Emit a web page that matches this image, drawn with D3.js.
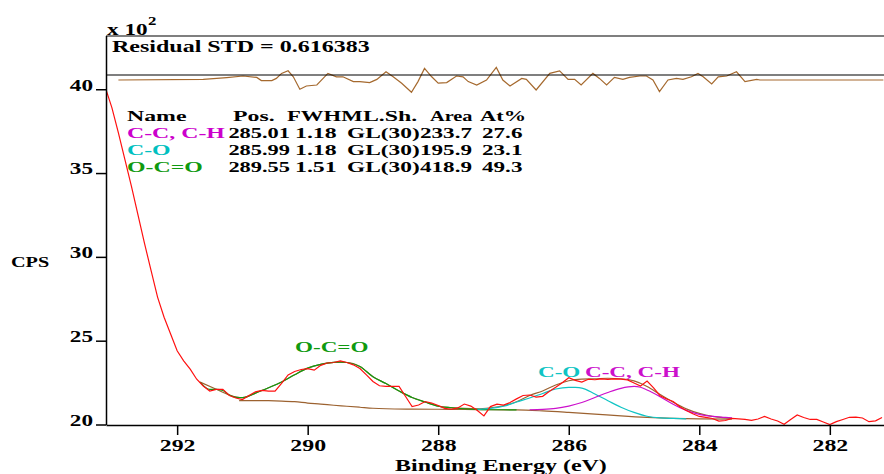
<!DOCTYPE html>
<html>
<head>
<meta charset="utf-8">
<script src="https://cdn.jsdelivr.net/npm/d3@7"></script>
<style>
  body { margin: 0; background: #fff; }
  svg text { font-family: "Liberation Serif", "Times New Roman", serif; font-weight: bold; }
</style>
</head>
<body>
<div id="chart"></div>
<script>
// spectrum (x 10^2 CPS) at 0.1 eV steps
var specE = [293.1, 293.0, 292.9, 292.8, 292.7, 292.6, 292.5, 292.4, 292.3, 292.2, 292.1, 292.0,
	291.9, 291.8, 291.7, 291.6, 291.5, 291.4, 291.3, 291.2, 291.1, 291.0,
	290.9, 290.8, 290.7, 290.6, 290.5, 290.4, 290.3, 290.2, 290.1, 290.0,
	289.9, 289.8, 289.7, 289.6, 289.5, 289.4, 289.3, 289.2, 289.1, 289.0,
	288.9, 288.8, 288.7, 288.6, 288.5, 288.4, 288.3, 288.2, 288.1, 288.0,
	287.9, 287.8, 287.7, 287.6, 287.5, 287.4, 287.3, 287.2, 287.1, 287.0,
	286.9, 286.8, 286.7, 286.6, 286.5, 286.4, 286.3, 286.2, 286.1, 286.0,
	285.9, 285.8, 285.7, 285.6, 285.5, 285.4, 285.3, 285.2, 285.1, 285.0,
	284.9, 284.8, 284.7, 284.6, 284.5, 284.4, 284.3, 284.2, 284.1, 284.0,
	283.9, 283.8, 283.7, 283.6, 283.5, 283.4, 283.3, 283.2, 283.1, 283.0,
	282.9, 282.8, 282.7, 282.6, 282.5, 282.4, 282.3, 282.2, 282.1, 282.0,
	281.9, 281.8, 281.7, 281.6, 281.5, 281.4, 281.3, 281.2];
var specV = [40.1, 38.9, 37.4, 35.8, 34.2, 32.5, 30.8, 29.2, 27.6, 26.4, 25.4, 24.4,
	23.8, 23.3, 22.7, 22.3, 22.0, 22.1, 22.1, 21.73, 21.58, 21.49,
	21.73, 21.95, 22.03, 21.99, 21.99, 22.45, 22.96, 23.16, 23.28, 23.33,
	23.24, 23.53, 23.67, 23.70, 23.79, 23.70, 23.56, 23.34, 22.96, 22.57,
	22.31, 22.27, 22.27, 22.27, 21.67, 21.07, 21.16, 21.37, 21.28, 21.13,
	20.96, 20.91, 20.99, 21.22, 21.10, 20.84, 20.51, 21.07, 21.21, 21.16,
	21.31, 21.53, 21.73, 21.76, 21.63, 21.68, 21.97, 22.22, 22.49, 22.79,
	22.63, 22.53, 22.70, 22.67, 22.72, 22.69, 22.72, 22.71, 22.66, 22.48,
	22.30, 22.59, 22.18, 21.72, 21.52, 21.37, 21.06, 20.84, 20.64, 20.48,
	20.42, 20.36, 20.20, 20.24, 20.36, 20.34, 20.30, 20.25, 20.33, 20.48,
	20.33, 20.21, 20.01, 20.30, 20.57, 20.42, 20.30, 20.30, 20.15, 20.00,
	20.17, 20.30, 20.43, 20.44, 20.39, 20.17, 20.22, 20.42];

// background
var bgE = [291.05, 290.6, 290.4, 290.2, 290.0, 289.8, 289.6, 289.4, 289.2, 289.0, 288.8, 288.4,
	288.0, 287.6, 287.2, 286.8, 286.4, 286.0, 285.6, 285.2, 284.8, 284.4, 284.0, 283.5];
var bgV = [21.43, 21.42, 21.40, 21.36, 21.28, 21.22, 21.15, 21.09, 21.03, 20.97, 20.94, 20.92,
	20.91, 20.90, 20.88, 20.87, 20.81, 20.72, 20.62, 20.51, 20.42, 20.36, 20.33, 20.32];

// envelope
var envE = [291.65, 291.4, 291.2, 291.0, 290.8, 290.6, 290.4, 290.2, 290.0, 289.8, 289.6, 289.4,
	289.2, 289.0, 288.8, 288.6, 288.4, 288.2, 288.0, 287.8, 287.6, 287.4, 287.2, 287.0,
	286.8, 286.6, 286.4, 286.2, 286.0, 285.8, 285.6, 285.4, 285.2, 285.0, 284.8, 284.6,
	284.4, 284.2, 284.0, 283.8, 283.6, 283.5];
var envV = [22.53, 22.10, 21.76, 21.60, 21.87, 22.19, 22.54, 22.97, 23.36, 23.59, 23.71, 23.70,
	23.46, 22.85, 22.44, 22.00, 21.61, 21.34, 21.10, 21.01, 20.96, 20.94, 21.00, 21.12,
	21.36, 21.73, 22.00, 22.36, 22.61, 22.71, 22.73, 22.76, 22.73, 22.60, 22.27, 21.79,
	21.33, 20.93, 20.66, 20.48, 20.39, 20.36];

// components (drawn on top of background)
var ocoE = [291.65, 291.5, 291.4, 291.3, 291.2, 291.1, 291.0, 290.9, 290.8, 290.6, 290.4, 290.2,
	290.0, 289.8, 289.6, 289.5, 289.4, 289.2, 289.0, 288.8, 288.6, 288.4, 288.2, 288.0,
	287.8, 287.6, 287.4, 287.2, 287.0, 286.8];
var ocoV = [22.53, 22.09, 22.10, 22.03, 21.76, 21.62, 21.60, 21.70, 21.87, 22.19, 22.54, 22.97,
	23.36, 23.59, 23.71, 23.73, 23.70, 23.46, 22.85, 22.44, 22.00, 21.61, 21.34, 21.09,
	21.00, 20.94, 20.90, 20.88, 20.88, 20.87];
var coE = [287.4, 287.2, 287.0, 286.8, 286.6, 286.4, 286.2, 286.0, 285.9, 285.8, 285.6, 285.4,
	285.2, 285.0, 284.8, 284.6, 284.4, 284.2];
var coV = [20.90, 20.96, 21.09, 21.34, 21.58, 21.85, 22.12, 22.22, 22.21, 22.17, 21.82, 21.42,
	21.03, 20.72, 20.49, 20.39, 20.36, 20.34];
var ccE = [286.6, 286.4, 286.2, 286.0, 285.8, 285.6, 285.4, 285.2, 285.0, 284.9, 284.8, 284.6,
	284.4, 284.2, 284.0, 283.8, 283.6, 283.5];
var ccV = [20.88, 20.90, 20.96, 21.10, 21.31, 21.61, 21.91, 22.16, 22.27, 22.22, 22.06, 21.66,
	21.21, 20.84, 20.60, 20.48, 20.42, 20.39];

// residual
var resE = [292.90, 291.60, 291.24, 290.99, 290.78, 290.71, 290.55, 290.48, 290.40, 290.30, 290.22, 290.12,
	290.02, 289.86, 289.69, 289.56, 289.46, 289.30, 289.20, 289.05, 288.94, 288.80, 288.69, 288.56,
	288.41, 288.31, 288.21, 288.10, 288.00, 287.87, 287.72, 287.62, 287.54, 287.41, 287.26, 287.11,
	287.01, 286.90, 286.72, 286.65, 286.50, 286.29, 286.14, 286.01, 285.91, 285.81, 285.63, 285.53,
	285.42, 285.30, 285.17, 285.07, 284.91, 284.81, 284.71, 284.61, 284.48, 284.35, 284.25, 284.12,
	284.02, 283.94, 283.81, 283.71, 283.58, 283.43, 283.30, 283.12, 283.07, 281.18];
var resV = [0, 0.03, 0.12, 0.20, 0.13, -0.03, -0.03, 0.08, 0.33, 0.46, 0.16, -0.46,
	-0.30, -0.25, 0.33, 0.16, 0.16, -0.08, -0.08, -0.13, 0.03, 0.41, 0.16, -0.16,
	-0.61, -0.08, 0.58, 0.16, -0.16, -0.13, 0.20, 0.16, -0.08, -0.25, 0, 0.63,
	0, -0.30, 0.08, 0.03, -0.50, 0.33, 0.46, 0.03, 0.03, -0.25, 0.33, 0.08,
	-0.25, 0.13, 0.03, 0.13, 0.20, 0.20, 0, -0.58, 0, 0.08, 0.03, 0.16,
	0.33, 0.16, -0.20, 0.16, 0.20, 0.41, -0.08, 0.03, 0, 0];

// quantification table
var tNames = ['C-C, C-H', 'C-O', 'O-C=O'];
var tPos = ['285.01', '285.99', '289.55'];
var tFwhm = ['1.18', '1.18', '1.51'];
var tShape = ['GL(30)', 'GL(30)', 'GL(30)'];
var tArea = ['233.7', '195.9', '418.9'];
var tAt = ['27.6', '23.1', '49.3'];
var tColors = ['#cc00cc', '#00c0c0', '#109a10'];

var xTicks = [292, 290, 288, 286, 284, 282];
var yTicks = [20, 25, 30, 35, 40];

var w = 884;
var h = 474;
var mLeft = 106, mRight = 884, mBottom = 424.5, mTop = 36;

var svg = d3.select('#chart')
	.append('svg')
	.attr('width', w)
	.attr('height', h)

var x = d3.scaleLinear()
	.domain([293.09, 281.17])
	.range([mLeft, mRight])

var y = d3.scaleLinear()
	.domain([20, 43.2])
	.range([mBottom, 35.6])

var ry = d3.scaleLinear()
	.domain([-1, 1])
	.range([100, 60])

function stretch(sel, k) {
	sel.each(function() {
		var len = this.getComputedTextLength();
		d3.select(this)
			.attr('textLength', len * k)
			.attr('lengthAdjust', 'spacingAndGlyphs')
	})
}

function zip(es, vs) {
	return es.map(function(e, i) { return {e: e, v: vs[i]}; });
}

svg.append('defs')
	.append('clipPath')
	.attr('id', 'plotclip')
	.append('rect')
	.attr('x', mLeft)
	.attr('y', mTop)
	.attr('width', mRight - mLeft)
	.attr('height', mBottom - mTop + 2)

// residual panel
var rline = d3.line()
	.x(function(d) { return x(d.e); })
	.y(function(d) { return ry(d.v); })

svg.append('path')
	.datum(zip(resE, resV))
	.attr('fill', 'none')
	.attr('stroke', '#a5692e')
	.attr('stroke-width', 1.2)
	.attr('d', rline)

svg.append('line')
	.attr('x1', mLeft).attr('x2', mRight)
	.attr('y1', 75).attr('y2', 75)
	.attr('stroke', '#000')
	.attr('stroke-width', 1.2)

svg.append('line')
	.attr('x1', mLeft).attr('x2', mRight)
	.attr('y1', mTop).attr('y2', mTop)
	.attr('stroke', '#000')
	.attr('stroke-width', 1.2)

// curves
var smooth = d3.line()
	.x(function(d) { return x(d.e); })
	.y(function(d) { return y(d.v); })
	.curve(d3.curveMonotoneX)

var plain = d3.line()
	.x(function(d) { return x(d.e); })
	.y(function(d) { return y(d.v); })

var g = svg.append('g').attr('clip-path', 'url(#plotclip)')

var curves = [
	{e: bgE, v: bgV, c: '#9c6230'},
	{e: envE, v: envV, c: '#9c6230'},
	{e: ocoE, v: ocoV, c: '#109a10'},
	{e: coE, v: coV, c: '#10c4c4'},
	{e: ccE, v: ccV, c: '#cc10cc'}
]

curves.forEach(function(k) {
	g.append('path')
		.datum(zip(k.e, k.v))
		.attr('fill', 'none')
		.attr('stroke', k.c)
		.attr('stroke-width', 1.2)
		.attr('d', smooth)
})

g.append('path')
	.datum(zip(specE, specV))
	.attr('fill', 'none')
	.attr('stroke', '#ff1010')
	.attr('stroke-width', 1.2)
	.attr('d', plain)

// axes
var yaxis = svg.append('g')
	.attr('transform', 'translate(' + mLeft + ',0)')

yaxis.call(d3.axisLeft(y).tickValues(d3.range(20, 44, 1)).tickSize(6).tickFormat('').tickSizeOuter(0))
yaxis.call(d3.axisLeft(y).tickValues(yTicks).tickSize(10).tickSizeOuter(0))
yaxis.selectAll('path, line').attr('stroke', '#000').attr('stroke-width', 1.5)
yaxis.selectAll('text')
	.attr('x', -13)
	.attr('dy', '0.05em')
	.attr('fill', '#000')
	.style('font-size', '16px')
	.style('font-family', '"Liberation Serif", serif')
	.style('font-weight', 'bold')
	.call(stretch, 1.45)

var xaxis = svg.append('g')
	.attr('transform', 'translate(0,' + (mBottom + 0.5) + ')')

xaxis.call(d3.axisBottom(x).tickValues(d3.range(293, 281, -0.5)).tickSize(6).tickFormat('').tickSizeOuter(0))
xaxis.call(d3.axisBottom(x).tickValues(xTicks).tickSize(10).tickSizeOuter(0))
xaxis.selectAll('path, line').attr('stroke', '#000').attr('stroke-width', 1.5)
xaxis.selectAll('text')
	.attr('y', 26)
	.attr('dy', 0)
	.attr('fill', '#000')
	.style('font-size', '17px')
	.style('font-family', '"Liberation Serif", serif')
	.style('font-weight', 'bold')
	.call(stretch, 1.4)

// labels
svg.append('text')
	.attr('x', 107).attr('y', 35)
	.style('font-size', '16px')
	.text('x 10')
	.call(stretch, 1.45)

svg.append('text')
	.attr('x', 148).attr('y', 25)
	.style('font-size', '12px')
	.text('2')
	.call(stretch, 1.4)

svg.append('text')
	.attr('x', 112).attr('y', 52)
	.style('font-size', '16px')
	.text('Residual STD = 0.616383')
	.call(stretch, 1.5)

svg.append('text')
	.attr('x', 11).attr('y', 267)
	.style('font-size', '15px')
	.text('CPS')
	.call(stretch, 1.35)

svg.append('text')
	.attr('x', 501).attr('y', 471)
	.attr('text-anchor', 'middle')
	.style('font-size', '17px')
	.text('Binding Energy (eV)')
	.call(stretch, 1.41)

// peak labels
var peakLabels = [
	{t: 'O-C=O', x: 295, c: '#109a10', y: 352},
	{t: 'C-O', x: 538, c: '#10c4c4', y: 377},
	{t: 'C-C, C-H', x: 585, c: '#cc10cc', y: 377}
]
peakLabels.forEach(function(p) {
	svg.append('text')
		.attr('x', p.x).attr('y', p.y)
		.attr('fill', p.c)
		.style('font-size', '14px')
		.text(p.t)
		.call(stretch, 1.65)
})

// table
var table = svg.append('g').style('font-size', '14px')
var header = [['Name', 127, 1.7], ['Pos.', 233, 1.7], ['FWHM', 287, 1.62], ['L.Sh.', 363, 1.7], ['Area', 430, 1.45], ['At%', 480, 1.6]]
header.forEach(function(hd) {
	table.append('text')
		.attr('x', hd[1]).attr('y', 121)
		.text(hd[0])
		.call(stretch, hd[2])
})

tNames.forEach(function(n, i) {
	var ty = 138 + i * 17
	table.append('text').attr('x', 127).attr('y', ty).attr('fill', tColors[i]).text(n).call(stretch, 1.7)
	table.append('text').attr('x', 290).attr('y', ty).attr('text-anchor', 'end').text(tPos[i]).call(stretch, 1.6)
	table.append('text').attr('x', 295).attr('y', ty).text(tFwhm[i]).call(stretch, 1.7)
	table.append('text').attr('x', 347).attr('y', ty).text(tShape[i]).call(stretch, 1.67)
	table.append('text').attr('x', 420).attr('y', ty).text(tArea[i]).call(stretch, 1.65)
	table.append('text').attr('x', 482).attr('y', ty).text(tAt[i]).call(stretch, 1.65)
})
</script>
</body>
</html>
